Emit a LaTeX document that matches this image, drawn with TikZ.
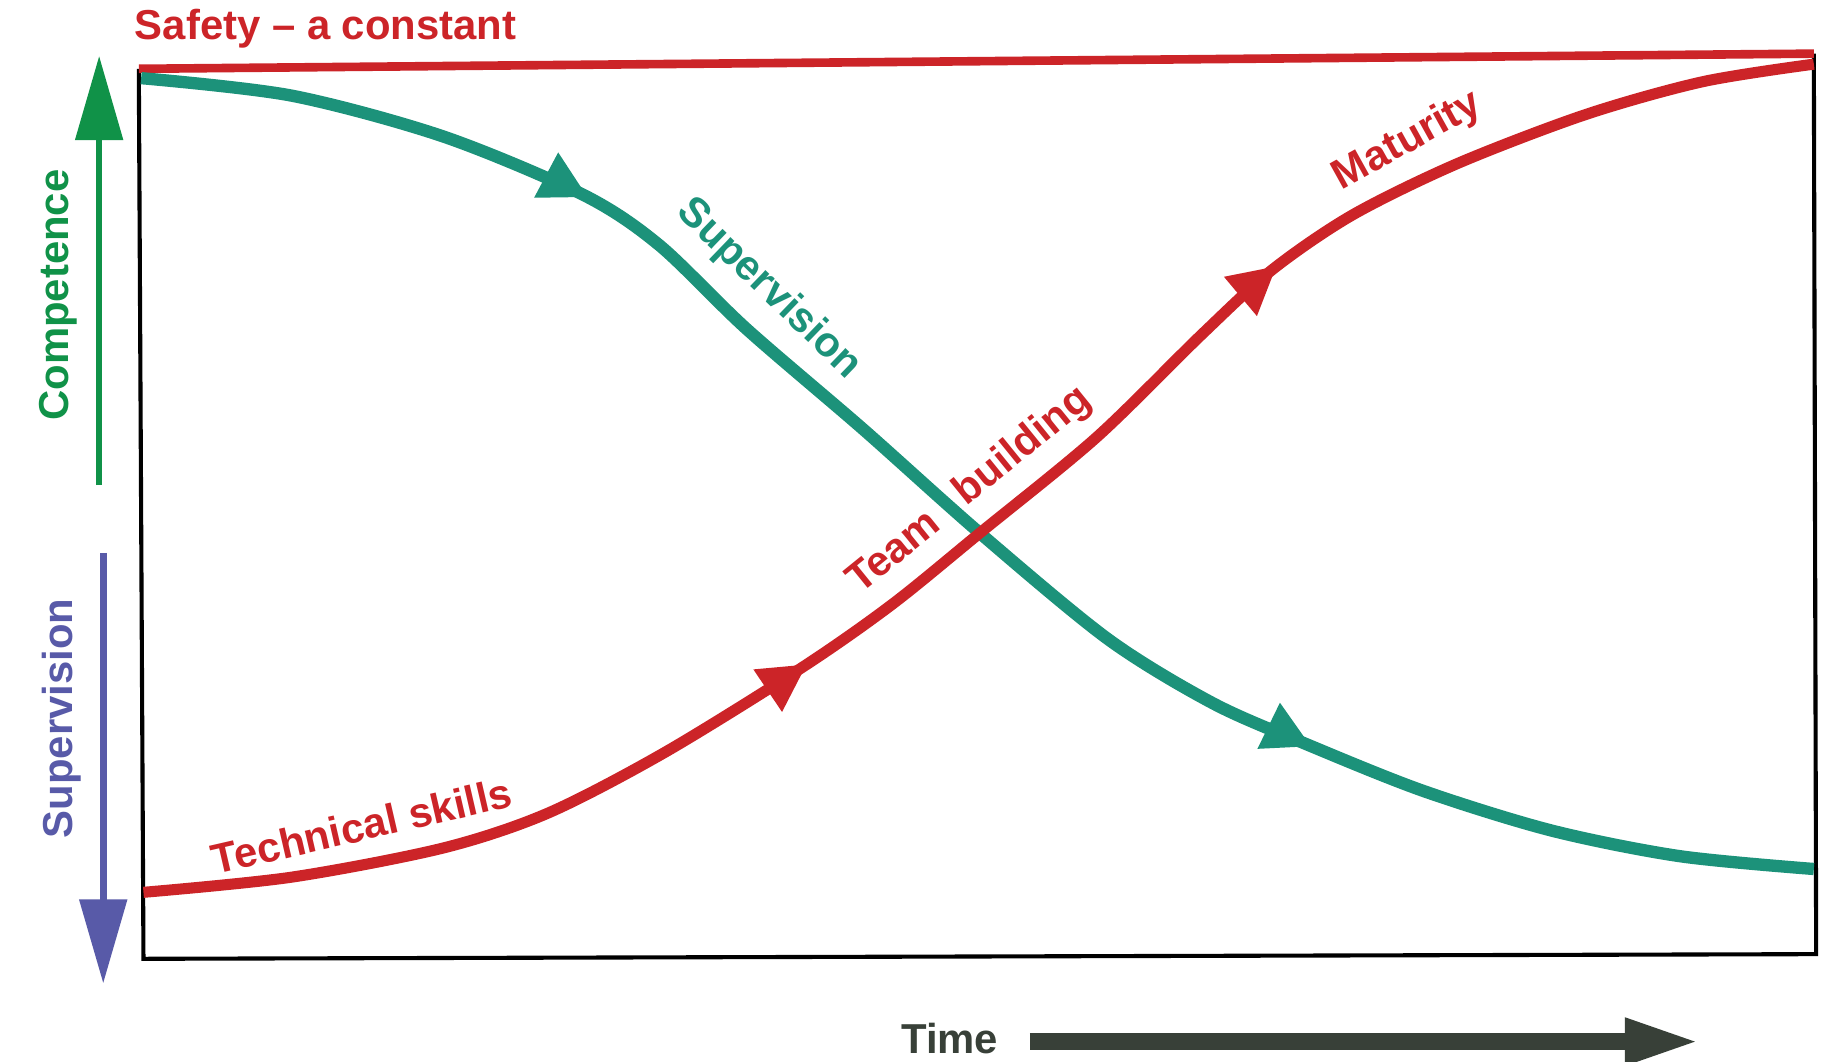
\documentclass[tikz,border=0pt]{standalone}
\usepackage{fontspec}
\setmainfont{Liberation Sans}
\usetikzlibrary{arrows.meta}
\definecolor{cred}{RGB}{204,36,40}
\definecolor{ctea}{RGB}{28,146,122}
\definecolor{cgrn}{RGB}{16,146,72}
\definecolor{cblu}{RGB}{88,90,168}
\definecolor{ctim}{RGB}{56,64,56}
\tikzset{
  lbl/.style={font=\bfseries\fontsize{10.2}{12}\selectfont, inner sep=0pt},
  curvehead/.pic={\fill (4,0) -- (-36,-22) -- (-36,22) -- cycle;},
  frame/.style={draw=black, line width=1pt},
}
\begin{document}
\begin{tikzpicture}[x=0.01cm,y=-0.01cm]
\useasboundingbox (0,0) rectangle (1568,910);
\fill[white] (0,0) rectangle (1568,910);

% frame corners
\coordinate (TL) at (119,59);
\coordinate (TR) at (1555,46);
\coordinate (BR) at (1557,818);
\coordinate (BL) at (123,822);
\draw[frame] (TL) -- (BL) -- (BR) -- (TR);

% safety line
\draw[cred, line width=2.1pt] (TL) -- (TR);
\node[lbl, text=cred, anchor=base west] (safety) at (115,34) {Safety -- a constant};

% supervision curve (teal)
\coordinate (ts) at (121,67);
\coordinate (th1) at (500,167);
\coordinate (tx) at (840,457);
\coordinate (th2) at (1120,638);
\coordinate (te) at (1555,745);
\draw[ctea, line width=3pt] plot[smooth, tension=0.5] coordinates {
  (ts) (250,82) (380,117) (th1) (565,210) (640,282) (740,368) (tx)
  (950,548) (1040,603) (th2) (1220,678) (1330,712) (1440,734) (te)};
\pic[ctea, rotate=-28] at (th1) {curvehead};
\pic[ctea, rotate=-26] at (th2) {curvehead};

% competence curve (red)
\coordinate (rs) at (123,765);
\coordinate (rh1) at (688,572);
\coordinate (rh2) at (1091,231);
\coordinate (re) at (1555,55);
\draw[cred, line width=2.7pt] plot[smooth, tension=0.5] coordinates {
  (rs) (250,752) (380,727) (470,697) (570,645) (rh1) (765,518) (tx)
  (940,375) (1030,287) (rh2) (1160,184) (1250,140) (1360,98) (1460,70) (re)};
\pic[cred, rotate=34] at (rh1) {curvehead};
\pic[cred, rotate=40] at (rh2) {curvehead};

% curve labels
\node[lbl, text=ctea, rotate=-44] (lsup) at (659,248) {Supervision};
\node[lbl, text=cred, rotate=13] (ltech) at (310,708) {Technical skills};
\node[lbl, text=cred, rotate=39] (lteam) at (765,472) {Team};
\node[lbl, text=cred, rotate=39] (lbuild) at (877,383) {building};
\node[lbl, text=cred, rotate=29] (lmat) at (1207,121) {Maturity};

% axis arrows
\coordinate (g0) at (85,416);
\coordinate (g1) at (85,48);
\draw[cgrn, line width=1.5pt, -{Triangle[length=0.72cm, width=0.40cm]}] (g0) -- (g1);
\node[lbl, text=cgrn, rotate=90] (lcomp) at (50,253) {Competence};

\coordinate (b0) at (88.5,474);
\coordinate (b1) at (88.5,843);
\draw[cblu, line width=1.6pt, -{Triangle[length=0.72cm, width=0.40cm]}] (b0) -- (b1);
\node[lbl, text=cblu, rotate=90] (lsupax) at (53,616) {Supervision};

% time arrow
\node[lbl, text=ctim, anchor=base west] (ltime) at (772,903) {Time};
\coordinate (tm0) at (883,893);
\coordinate (tm1) at (1457,893);
\draw[ctim, line width=4pt, -{Triangle[length=0.64cm, width=0.37cm]}] (tm0) -- (tm1);
\end{tikzpicture}
\end{document}
